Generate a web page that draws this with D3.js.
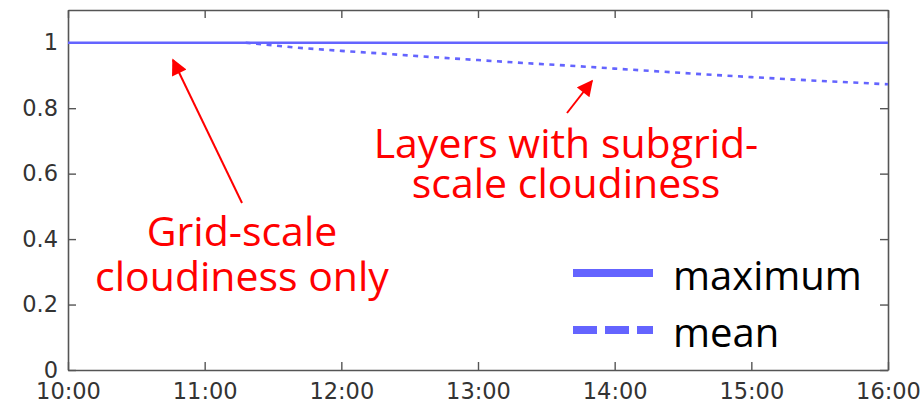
<!DOCTYPE html>
<html>
<head>
<meta charset="utf-8">
<script src="https://cdn.jsdelivr.net/npm/d3@7"></script>
<style>
  body { margin: 0; background: #fff; }
  svg { display: block; }
</style>
</head>
<body>
<div id="chart"></div>
<script>
// data
var day = '2000-01-01 ';
var maxTimes = ['10:00', '16:00'];
var maxValues = [1, 1];
var meanTimes = ['11:18', '11:40', '12:00', '12:20', '12:40', '13:00', '13:20', '13:40',
                 '14:00', '14:20', '14:40', '15:00', '15:20', '15:40', '16:00'];
var meanValues = [1.0, 0.985, 0.975, 0.966, 0.956, 0.947, 0.938, 0.930,
                  0.921, 0.912, 0.903, 0.895, 0.887, 0.880, 0.873];
var yTicks = [0, 0.2, 0.4, 0.6, 0.8, 1];
var legendLabels = ['maximum', 'mean'];

var W = 924, H = 404;
var m = {left: 68, right: 36, top: 10, bottom: 34};
var lineColor = '#6464ff';

var parse = d3.timeParse('%Y-%m-%d %H:%M');
var toPts = function(times, vals) {
  return times.map(function(t, i) { return {t: parse(day + t), v: vals[i]}; });
};
var maxData = toPts(maxTimes, maxValues);
var meanData = toPts(meanTimes, meanValues);

var svg = d3.select('#chart').append('svg')
  .attr('width', W).attr('height', H);

var x = d3.scaleTime()
  .domain([parse(day + '10:00'), parse(day + '16:00')])
  .range([m.left, W - m.right]);
var y = d3.scaleLinear()
  .domain([0, 1.1])
  .range([H - m.bottom, m.top]);

var styleAxis = function(g) {
  g.selectAll('.domain').attr('stroke', '#555').attr('stroke-width', 1.6);
  g.selectAll('.tick line').attr('stroke', '#555').attr('stroke-width', 1.4);
  g.selectAll('.tick text').attr('fill', '#333')
    .style('font-family', '"DejaVu Sans", sans-serif')
    .style('font-size', '22.5px');
};

var hourTicks = x.ticks(d3.timeHour.every(1));

svg.append('g')
  .attr('transform', 'translate(0,' + (H - m.bottom) + ')')
  .call(d3.axisBottom(x).tickValues(hourTicks).tickFormat(d3.timeFormat('%H:%M'))
    .tickSizeInner(-8).tickSizeOuter(0).tickPadding(13))
  .call(styleAxis);
svg.append('g')
  .attr('transform', 'translate(0,' + m.top + ')')
  .call(d3.axisTop(x).tickValues(hourTicks).tickFormat('')
    .tickSizeInner(-8).tickSizeOuter(0))
  .call(styleAxis);
svg.append('g')
  .attr('transform', 'translate(' + m.left + ',0)')
  .call(d3.axisLeft(y).tickValues(yTicks).tickFormat(d3.format('~g'))
    .tickSizeInner(-8).tickSizeOuter(0).tickPadding(10))
  .call(styleAxis);
svg.append('g')
  .attr('transform', 'translate(' + (W - m.right) + ',0)')
  .call(d3.axisRight(y).tickValues(yTicks).tickFormat('')
    .tickSizeInner(-8).tickSizeOuter(0))
  .call(styleAxis);

var line = d3.line()
  .x(function(d) { return x(d.t); })
  .y(function(d) { return y(d.v); });

svg.append('path').datum(maxData)
  .attr('d', line).attr('fill', 'none')
  .attr('stroke', lineColor).attr('stroke-width', 2.6);
svg.append('path').datum(meanData)
  .attr('d', line).attr('fill', 'none')
  .attr('stroke', lineColor).attr('stroke-width', 2.6)
  .attr('stroke-dasharray', '5,5.5');

// legend
var leg = svg.append('g');
legendLabels.forEach(function(lab, i) {
  var ly = 273 + i * 57;
  leg.append('line')
    .attr('x1', 573).attr('x2', 653).attr('y1', ly).attr('y2', ly)
    .attr('stroke', lineColor).attr('stroke-width', 8)
    .attr('stroke-dasharray', i ? '24,8' : null);
  leg.append('text')
    .attr('x', 673).attr('y', ly + 17)
    .style('font-family', '"Open Sans", "Noto Sans", sans-serif')
    .style('font-size', '40px')
    .attr('fill', '#000')
    .text(lab);
});

// annotations
svg.append('defs').append('marker')
  .attr('id', 'head').attr('viewBox', '0 0 10 10')
  .attr('refX', 9).attr('refY', 5)
  .attr('markerWidth', 18).attr('markerHeight', 16)
  .attr('markerUnits', 'userSpaceOnUse')
  .attr('orient', 'auto')
  .append('path').attr('d', 'M0,0L10,5L0,10Z').attr('fill', '#f00');

var arrows = [
  {x1: 242, y1: 203, x2: 173, y2: 60},
  {x1: 567, y1: 113, x2: 592, y2: 81}
];
svg.selectAll('.arrow').data(arrows).enter()
  .append('line').attr('class', 'arrow')
  .attr('x1', function(d) { return d.x1; }).attr('y1', function(d) { return d.y1; })
  .attr('x2', function(d) { return d.x2; }).attr('y2', function(d) { return d.y2; })
  .attr('stroke', '#f00').attr('stroke-width', 2)
  .attr('marker-end', 'url(#head)');

var notes = [
  {x: 242, y: 246, t: 'Grid-scale'},
  {x: 242, y: 291, t: 'cloudiness only'},
  {x: 566, y: 158, t: 'Layers with subgrid-'},
  {x: 566, y: 198, t: 'scale cloudiness'}
];
svg.selectAll('.note').data(notes).enter()
  .append('text').attr('class', 'note')
  .attr('x', function(d) { return d.x; }).attr('y', function(d) { return d.y; })
  .attr('text-anchor', 'middle')
  .style('font-family', '"Open Sans", "Noto Sans", sans-serif')
  .style('font-size', '41px')
  .attr('fill', '#f00')
  .text(function(d) { return d.t; });
</script>
</body>
</html>
